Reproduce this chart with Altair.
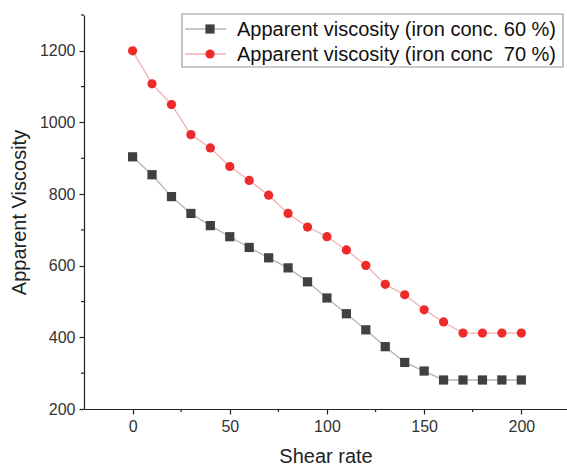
import altair as alt
import pandas as pd

shear = [0, 10, 20, 30, 40, 50, 60, 70, 80, 90, 100, 110, 120, 130, 140, 150, 160, 170, 180, 190, 200]
visc60 = [904, 854, 793, 746, 712, 681, 651, 622, 594, 555, 510, 466, 421, 374, 330, 306, 281, 281, 281, 281, 281]
visc70 = [1200, 1108, 1050, 966, 929, 877, 838, 797, 746, 708, 681, 644, 601, 548, 519, 477, 443, 412, 412, 412, 412]
s60 = "Apparent viscosity (iron conc. 60 %)"
s70 = "Apparent viscosity (iron conc\u00a0 70 %)"
series = [s60, s70]
x_major = [0, 50, 100, 150, 200]
x_minor = [25, 75, 125, 175]
y_major = [200, 400, 600, 800, 1000, 1200]
y_minor = [300, 500, 700, 900, 1100, 1300]

rows = []
for x, a, b in zip(shear, visc60, visc70):
    rows.append({"shear": x, "visc": a, "series": s60})
    rows.append({"shear": x, "visc": b, "series": s70})
df = pd.DataFrame(rows)
leg_df = pd.DataFrame({"series": series, "row": list(range(len(series)))})

FONT = "Liberation Sans"
xscale = alt.Scale(domain=[-25, 223.5], nice=False, zero=False)
yscale = alt.Scale(domain=[200, 1300], nice=False, zero=False)
xs = alt.X("shear:Q", title="Shear rate", scale=xscale,
           axis=alt.Axis(values=x_major, grid=False, format="d"))
ys = alt.Y("visc:Q", title="Apparent Viscosity", scale=yscale,
           axis=alt.Axis(values=y_major, grid=False, format="d"))

line_col = alt.Color("series:N", scale=alt.Scale(domain=series, range=["#b4b4b4", "#f2b0b0"]), legend=None)
pt_col = alt.Color("series:N", scale=alt.Scale(domain=series, range=["#404040", "#ee2a2a"]), legend=None)
pt_shape = alt.Shape("series:N", scale=alt.Scale(domain=series, range=["square", "circle"]), legend=None)

lines = alt.Chart(df).mark_line(strokeWidth=1.3).encode(x=xs, y=ys, color=line_col)
pts = alt.Chart(df).mark_point(filled=True, opacity=1, size=85).encode(
    x=xs, y=ys, color=pt_col, shape=pt_shape)

xmin = alt.Chart(pd.DataFrame({"v": x_minor})).mark_rule(color="#222", strokeWidth=1.2).encode(
    x=alt.X("v:Q", scale=xscale), y=alt.value(394), y2=alt.value(397))
ymin = alt.Chart(pd.DataFrame({"v": y_minor})).mark_rule(color="#222", strokeWidth=1.2).encode(
    y=alt.Y("v:Q", scale=yscale), x=alt.value(-3), x2=alt.value(0))

# legend drawn by hand
leg_base = alt.Chart(leg_df).transform_calculate(py="14 + datum.row * 25")
leg_box = alt.Chart(pd.DataFrame({"a": [0]})).mark_rect(
    fill="white", stroke="#9a9a9a", strokeWidth=1.2).encode(
    x=alt.value(98), x2=alt.value(479), y=alt.value(-1), y2=alt.value(52))
leg_line = leg_base.mark_rule(strokeWidth=1.3).encode(
    x=alt.value(101), x2=alt.value(142), y=alt.Y("py:Q", scale=None), color=line_col)
leg_pt = leg_base.mark_point(filled=True, opacity=1, size=85).encode(
    x=alt.value(126), y=alt.Y("py:Q", scale=None), color=pt_col, shape=pt_shape)
leg_txt = leg_base.mark_text(align="left", baseline="middle", fontSize=20, font=FONT,
                             color="#111", dy=1).encode(
    x=alt.value(153), y=alt.Y("py:Q", scale=None), text="series:N")

chart = alt.layer(lines, pts, xmin, ymin, leg_box, leg_line, leg_pt, leg_txt).resolve_scale(
    color="independent", shape="independent").properties(
    width=483, height=394,
    padding={"left": 84, "top": 15, "right": 0, "bottom": 59},
    autosize=alt.AutoSizeParams(type="none"),
).configure_view(stroke=None).configure_axis(
    domainColor="#222", tickColor="#222", labelColor="#333", titleColor="#222",
    labelFont=FONT, titleFont=FONT,
    labelFontSize=16, titleFontSize=20, titleFontWeight="normal",
    tickSize=5, domainWidth=1.2, tickWidth=1.2, labelPadding=4,
).configure_axisX(titlePadding=12).configure_axisY(titlePadding=10)

chart.save("out.html", embed_options={"renderer": "svg", "actions": False})
